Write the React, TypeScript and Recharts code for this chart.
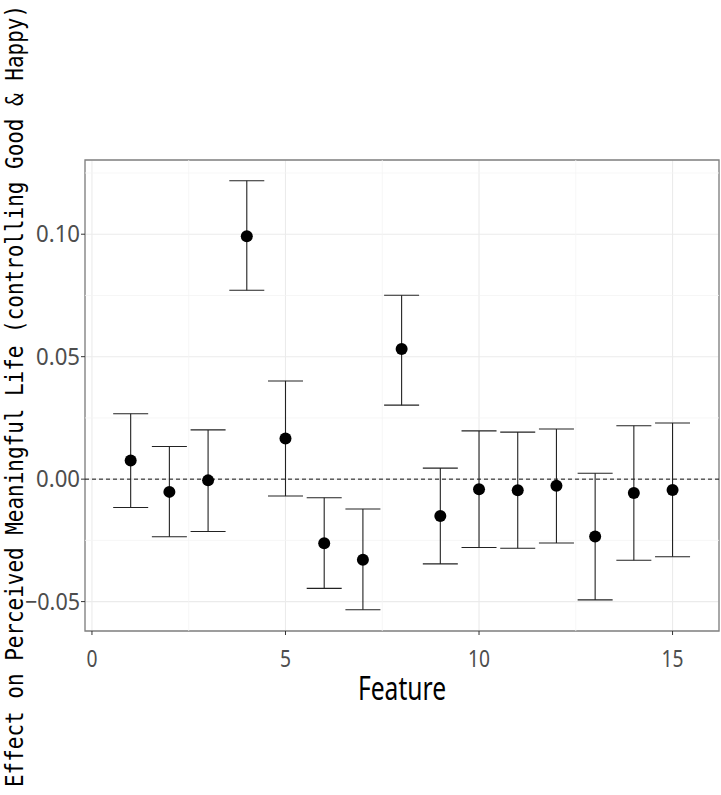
import {
  ScatterChart,
  Scatter,
  XAxis,
  YAxis,
  CartesianGrid,
  ReferenceLine,
  ReferenceArea,
  ErrorBar,
  Label,
} from 'recharts';

// estimates with 95% interval, one per feature
const features = [1, 2, 3, 4, 5, 6, 7, 8, 9, 10, 11, 12, 13, 14, 15];
const effect = [0.0076, -0.0052, -0.0005, 0.0992, 0.0166, -0.0262, -0.0329, 0.0531, -0.015, -0.0041, -0.0045, -0.0027, -0.0234, -0.0057, -0.0044];
const lower = [-0.0116, -0.0235, -0.0214, 0.0771, -0.0069, -0.0446, -0.0533, 0.0302, -0.0346, -0.0279, -0.0282, -0.0261, -0.0493, -0.0331, -0.0317];
const upper = [0.0267, 0.0133, 0.0201, 0.1218, 0.0401, -0.0076, -0.0122, 0.0751, 0.0045, 0.0197, 0.0192, 0.0205, 0.0024, 0.0218, 0.0229];

const xTicks = [0, 5, 10, 15];
const xMinor = [2.5, 7.5, 12.5];
const yTicks = [-0.05, 0, 0.05, 0.1];
const yMinor = [-0.025, 0.025, 0.075, 0.125];
const xDomain: [number, number] = [-0.18, 16.2];
const yDomain: [number, number] = [-0.062, 0.1303];

const data = features.map((f, i) => ({
  feature: f,
  effect: effect[i],
  err: [effect[i] - lower[i], upper[i] - effect[i]],
}));

const TICK_FONT = "'Noto Sans', 'DejaVu Sans', sans-serif";
const CHAR_W = 11; // tick labels are set narrow

const fmtY = (v: number) => (v < 0 ? '\u2212' : '') + Math.abs(v).toFixed(2);

const YTick = (props: any) => {
  const { x, y, payload } = props;
  const s = fmtY(payload.value);
  return (
    <text x={x} y={y} dy="0.36em" textAnchor="end" fill="#4d4d4d" fontSize={23}
      fontFamily={TICK_FONT} textLength={s.length * CHAR_W} lengthAdjust="spacingAndGlyphs">
      {s}
    </text>
  );
};

const XTick = (props: any) => {
  const { x, y, payload } = props;
  const s = String(payload.value);
  return (
    <text x={x} y={y} dy="0.71em" textAnchor="middle" fill="#4d4d4d" fontSize={23}
      fontFamily={TICK_FONT} textLength={s.length * CHAR_W} lengthAdjust="spacingAndGlyphs">
      {s}
    </text>
  );
};

const Dot = (props: any) => <circle cx={props.cx} cy={props.cy} r={6} fill="#000" />;

const XTitle = (props: any) => {
  const vb = props.viewBox;
  return (
    <text x={vb.x + vb.width / 2} y={700} textAnchor="middle" fill="#000" fontSize={32}
      fontFamily={TICK_FONT} textLength={88} lengthAdjust="spacingAndGlyphs">
      Feature
    </text>
  );
};

const YTitle = () => (
  <text x={23} y={396} transform="rotate(-90, 23, 396)" textAnchor="middle" fill="#000"
    fontSize={24} fontFamily="'DejaVu Sans Mono', monospace" textLength={782}
    lengthAdjust="spacingAndGlyphs">
    Effect on Perceived Meaningful Life (controlling Good &amp; Happy)
  </text>
);

export default function App() {
  return (
    <div style={{ position: 'absolute', left: 0, top: 0, background: '#fff' }}>
      <ScatterChart width={721} height={795} margin={{ top: 160, right: 2, bottom: 104, left: 0 }}>
        <CartesianGrid stroke="#ebebeb" strokeWidth={1.1} />
        {xMinor.map(v => (
          <ReferenceLine key={'vx' + v} x={v} stroke="#f4f4f4" strokeWidth={0.8} />
        ))}
        {yMinor.map(v => (
          <ReferenceLine key={'hy' + v} y={v} stroke="#f4f4f4" strokeWidth={0.8} />
        ))}
        <XAxis
          type="number"
          dataKey="feature"
          domain={xDomain}
          ticks={xTicks}
          allowDataOverflow
          height={60}
          axisLine={false}
          tickSize={4}
          tickMargin={16}
          tickLine={{ stroke: '#333' }}
          tick={<XTick />}
        >
          <Label content={<XTitle />} />
        </XAxis>
        <YAxis
          type="number"
          dataKey="effect"
          domain={yDomain}
          ticks={yTicks}
          allowDataOverflow
          width={85}
          axisLine={false}
          tickSize={4}
          tickMargin={1}
          tickLine={{ stroke: '#333' }}
          tick={<YTick />}
        >
          <Label content={<YTitle />} />
        </YAxis>
        <ReferenceArea x1={xDomain[0]} x2={xDomain[1]} y1={yDomain[0]} y2={yDomain[1]}
          fill="none" stroke="#808080" strokeWidth={1.3} />
        <ReferenceLine y={0} stroke="#111" strokeDasharray="4 3" strokeWidth={1} />
        <Scatter data={data} shape={<Dot />} isAnimationActive={false}>
          <ErrorBar dataKey="err" direction="y" width={17.5} stroke="#222" strokeWidth={1.1} />
        </Scatter>
      </ScatterChart>
    </div>
  );
}
